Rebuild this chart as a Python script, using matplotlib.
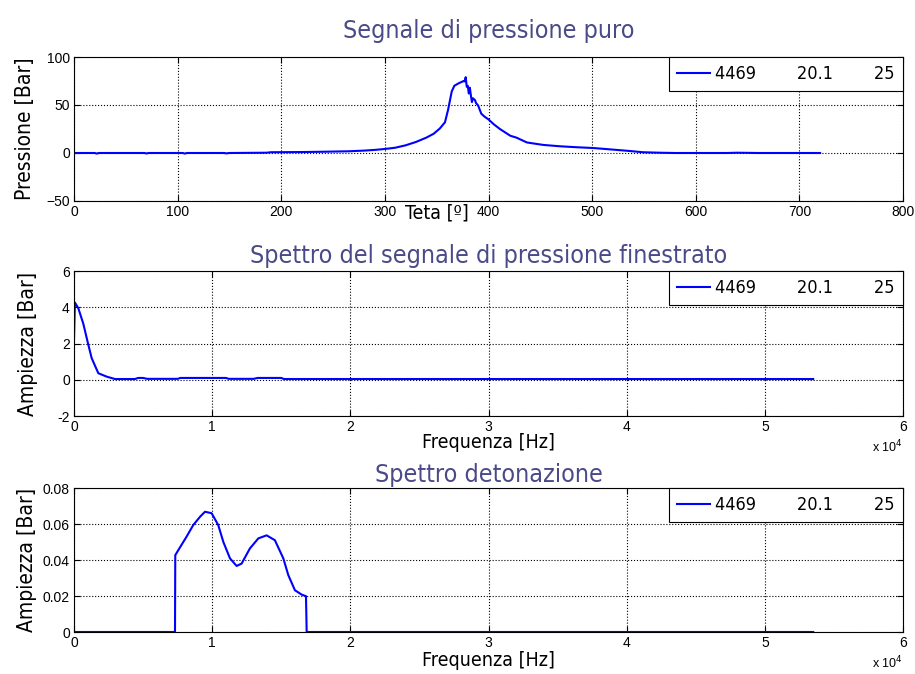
import numpy as np
import matplotlib.pyplot as plt
from matplotlib.ticker import FuncFormatter

# pressure trace vs crank angle
teta = [0, 20, 22, 24, 68, 70, 72, 105, 107, 109, 145, 147, 150, 186, 190, 220,
        240, 265, 280, 290, 300, 310, 320, 330, 340, 347, 353, 358, 361, 364.5,
        367, 371, 374, 376, 377, 378, 379, 380, 381, 382, 383, 384, 385, 387, 388,
        390, 393, 396, 400, 405, 411, 421, 427, 437, 443, 453, 469, 485, 501, 517,
        533, 549, 565, 580, 600, 630, 640, 660, 700, 720]
pressione = [0, 0, -0.6, 0, 0, -0.5, 0, 0, -0.6, 0, 0, -0.4, 0, 0.3, 0.8, 1.0,
             1.3, 1.8, 2.5, 3.2, 4.2, 5.5, 8, 11.5, 16, 20, 25.5, 32, 45, 64,
             70, 72.5, 74, 75, 74.5, 79, 69, 70, 62, 68, 60, 53, 57, 55, 52,
             49.5, 41, 38, 35, 30, 25, 18, 16, 11, 10, 8.4, 7, 6, 5.2, 3.8,
             2.4, 0.8, 0.3, 0, 0, 0, 0.3, 0, 0, 0]

# spectrum of windowed signal
freq_fin = [0, 65, 310, 670, 1040, 1280, 1760, 2370, 2970, 4400, 4650, 5000,
            5300, 7500, 7700, 11000, 11200, 13000, 13300, 15000, 15200, 53500]
amp_fin = [2.2, 4.26, 3.95, 3.1, 1.92, 1.19, 0.36, 0.17, 0.04, 0.04, 0.1, 0.1,
           0.05, 0.05, 0.1, 0.1, 0.05, 0.05, 0.1, 0.1, 0.04, 0.04]

# knock band spectrum
freq_det = [0, 7310, 7330, 7670, 8150, 8630, 9120, 9480, 9960, 10440, 10810,
            11290, 11770, 12130, 12730, 13340, 13940, 14540, 15150, 15510,
            15990, 16470, 16790, 16840, 53500]
amp_det = [0, 0, 0.0427, 0.047, 0.053, 0.0594, 0.064, 0.0668, 0.066, 0.0594,
           0.050, 0.0409, 0.0367, 0.038, 0.0464, 0.052, 0.0537, 0.051, 0.0409,
           0.0316, 0.0232, 0.0208, 0.0199, 0, 0]

leg_label = '4469        20.1        25'
NARROW = dict(family='DejaVu Sans', stretch='condensed')
TICKFONT = ['Liberation Sans', 'DejaVu Sans']
TITLE_COLOR = '#4a4a88'

W, H = 915, 674
fig = plt.figure(figsize=(W / 100, H / 100), dpi=100)
fig.patch.set_facecolor('white')


def make_ax(top, bottom):
    return fig.add_axes([74 / W, 1 - bottom / H, 829 / W, (bottom - top) / H])


def style(ax):
    for s in ax.spines.values():
        s.set_color('black')
        s.set_linewidth(0.8)
    ax.tick_params(direction='in', length=4, top=True, right=True,
                   labelsize=10, pad=3)
    for lab in ax.get_xticklabels() + ax.get_yticklabels():
        lab.set_family(TICKFONT)
    ax.grid(True, color='black', ls=':', lw=0.8)
    leg = ax.legend(loc='upper right', borderaxespad=0, fancybox=False,
                    framealpha=1, edgecolor='black', handlelength=1.8,
                    prop=dict(size=13, **NARROW), borderpad=0.45,
                    handletextpad=0.3)
    leg.get_frame().set_linewidth(0.8)


def labels(ax, title, xlabel, ylabel, xpos=0.5, ypos=-0.09, ylpad=4, tpad=6):
    ax.set_title(title, fontsize=18, color=TITLE_COLOR, pad=tpad, **NARROW)
    ax.set_xlabel(xlabel, fontsize=14, **NARROW)
    ax.xaxis.set_label_coords(xpos, ypos)
    ax.xaxis.label.set_va('top')
    ax.set_ylabel(ylabel, fontsize=15, labelpad=ylpad, **NARROW)


ax1 = make_ax(57, 201)
ax1.plot(teta, pressione, color='blue', lw=1.5, label=leg_label)
ax1.set_xlim(0, 800)
ax1.set_ylim(-50, 100)
ax1.set_xticks(np.arange(0, 801, 100))
ax1.set_yticks([-50, 0, 50, 100])
labels(ax1, 'Segnale di pressione puro', 'Teta [º]', 'Pressione [Bar]',
       xpos=0.438, ypos=-0.02, ylpad=8, tpad=14)
style(ax1)

ax2 = make_ax(271, 416)
ax2.plot(freq_fin, amp_fin, color='blue', lw=1.5, label=leg_label)
ax2.set_xlim(0, 6e4)
ax2.set_ylim(-2, 6)
ax2.set_xticks(np.arange(0, 6.01e4, 1e4))
ax2.set_yticks([-2, 0, 2, 4, 6])
labels(ax2, 'Spettro del segnale di pressione finestrato', 'Frequenza [Hz]',
       'Ampiezza [Bar]', ypos=-0.115, ylpad=14)

ax3 = make_ax(488, 632)
ax3.plot(freq_det, amp_det, color='blue', lw=1.5, label=leg_label)
ax3.set_xlim(0, 6e4)
ax3.set_ylim(0, 0.08)
ax3.set_xticks(np.arange(0, 6.01e4, 1e4))
ax3.set_yticks([0, 0.02, 0.04, 0.06, 0.08])
labels(ax3, 'Spettro detonazione', 'Frequenza [Hz]', 'Ampiezza [Bar]',
       ypos=-0.13, ylpad=4, tpad=4)

fmt_e4 = FuncFormatter(lambda v, pos: f'{v / 1e4:g}')
for ax in (ax2, ax3):
    ax.xaxis.set_major_formatter(fmt_e4)
    ax.yaxis.set_major_formatter(FuncFormatter(lambda v, pos: f'{v:g}'))
    style(ax)
    ax.text(1.0, -0.16, r'x 10$^{4}$', transform=ax.transAxes, ha='right',
            va='top', fontsize=9, family=TICKFONT)

fig.savefig('out.png', dpi=100)
